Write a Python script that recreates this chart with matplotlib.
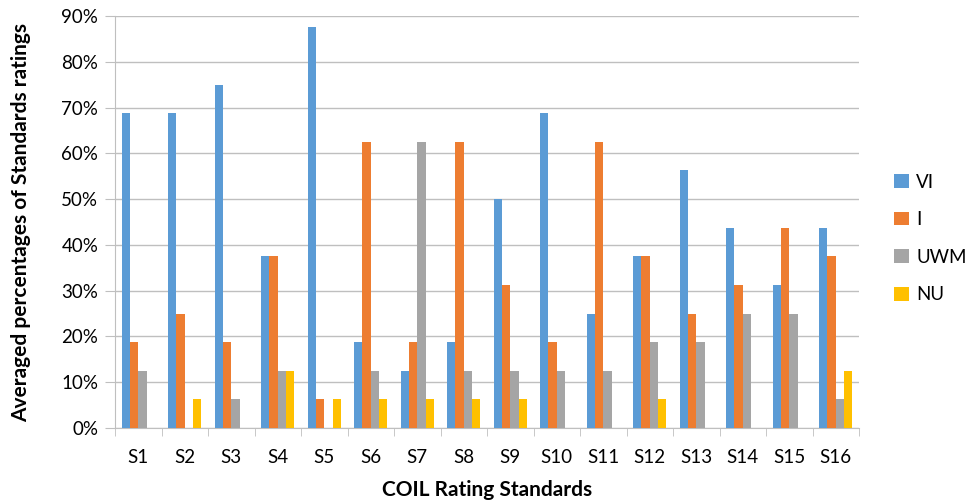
import matplotlib
matplotlib.use("Agg")
import matplotlib.pyplot as plt
import numpy as np
from matplotlib.ticker import FuncFormatter, MultipleLocator

categories = [f"S{i}" for i in range(1, 17)]
series_names = ["VI", "I", "UWM", "NU"]
vi = [68.75, 68.75, 75, 37.5, 87.5, 18.75, 12.5, 18.75, 50, 68.75, 25, 37.5, 56.25, 43.75, 31.25, 43.75]
imp = [18.75, 25, 18.75, 37.5, 6.25, 62.5, 18.75, 62.5, 31.25, 18.75, 62.5, 37.5, 25, 31.25, 43.75, 37.5]
uwm = [12.5, 0, 6.25, 12.5, 0, 12.5, 62.5, 12.5, 12.5, 12.5, 12.5, 18.75, 18.75, 25, 25, 6.25]
nu = [0, 6.25, 0, 12.5, 6.25, 6.25, 6.25, 6.25, 6.25, 0, 0, 6.25, 0, 0, 0, 12.5]
colors = ["#5B9BD5", "#ED7D31", "#A5A5A5", "#FFC000"]

plt.rcParams['font.family'] = ['Lato', 'DejaVu Sans']

fig = plt.figure(figsize=(9.66, 5.03), dpi=100)
ax = fig.add_axes([115/966, 1-428/503, (859-115)/966, (428-16)/503])

x = np.arange(len(categories))
w = 0.18
for k, (vals, name, c) in enumerate(zip([vi, imp, uwm, nu], series_names, colors)):
    ax.bar(x + (k - 1.5) * w, vals, width=w, color=c, label=name, zorder=3)

ax.set_xlim(-0.5, len(categories) - 0.5)
ax.set_ylim(0, 90)
ax.yaxis.set_major_locator(MultipleLocator(10))
ax.yaxis.set_major_formatter(FuncFormatter(lambda v, p: f"{int(round(v))}%"))
ax.grid(axis='y', color='#BFBFBF', linewidth=1, zorder=0)
ax.set_xticks(x)
ax.set_xticklabels(categories)
ax.set_xticks(np.arange(-0.5, len(categories), 1), minor=True)
ax.tick_params(axis='x', which='major', length=0, pad=15, labelsize=13.5)
ax.tick_params(axis='x', which='minor', length=6, color='#BFBFBF')
ax.tick_params(axis='y', length=7, color='#BFBFBF', labelsize=13.5, pad=5)
for s in ['top', 'right']:
    ax.spines[s].set_visible(False)
for s in ['left', 'bottom']:
    ax.spines[s].set_color('#BFBFBF')

fig.text(487/966, 1-490/503, "COIL Rating Standards", fontsize=15, fontweight='bold',
         ha='center', va='center')
fig.text(21/966, 1-222/503, "Averaged percentages of Standards ratings", fontsize=15,
         fontweight='bold', ha='center', va='center', rotation=90)

leg = ax.legend(loc='center left', bbox_to_anchor=(1.025, 0.46), frameon=False,
                fontsize=13.5, handlelength=0.75, handleheight=0.75, labelspacing=1.1,
                handletextpad=0.4)

fig.savefig("out.png", dpi=100)
